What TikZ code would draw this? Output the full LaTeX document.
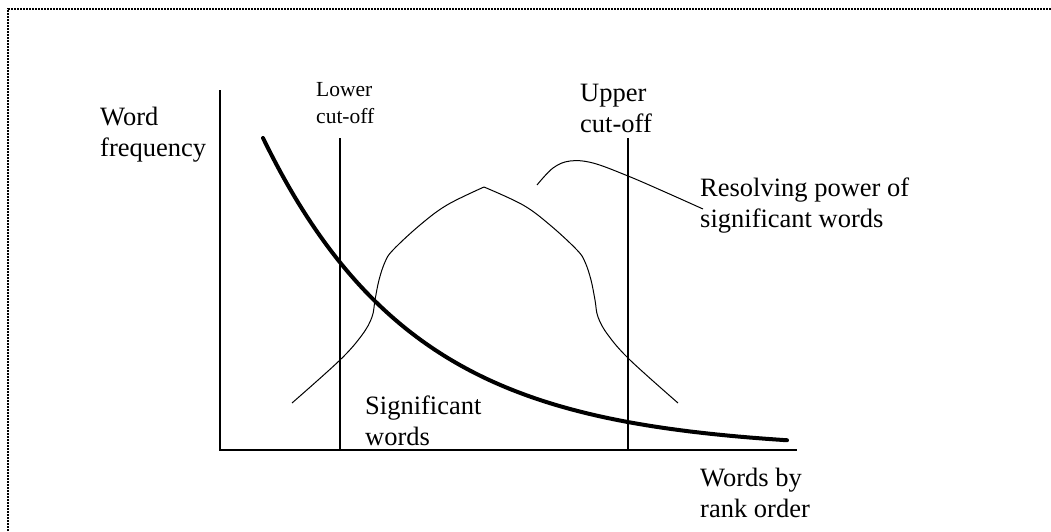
\documentclass[tikz,border=0pt]{standalone}
\usepackage{fontspec}
\setmainfont{Liberation Serif}
\begin{document}
\begin{tikzpicture}[x=1pt,y=-1pt,
    axisline/.style={line width=2pt},
    cutline/.style={line width=2pt},
    zipf/.style={line width=4pt,line cap=round},
    thincurve/.style={line width=1pt},
    frameline/.style={line width=2pt,dash pattern=on 2pt off 1pt},
    bigtext/.style={font=\fontsize{26.5}{30.5}\selectfont,align=left,anchor=base west,inner sep=0pt},
    smalltext/.style={font=\fontsize{21.5}{27}\selectfont,align=left,anchor=base west,inner sep=0pt}]
  \useasboundingbox (0,0) rectangle (1051,531);
  % frame (only top and left edges fall inside the page)
  \draw[frameline] (8,540) -- (8,9) -- (1060,9);
  % axes
  \coordinate (ytop) at (220,90);
  \coordinate (origin) at (220,450);
  \coordinate (xend) at (797,450);
  \draw[axisline] (ytop) -- (origin) -- (xend);
  % cut-off lines
  \coordinate (lowtop) at (340,138);
  \coordinate (lowbot) at (340,450);
  \coordinate (uptop) at (628,138);
  \coordinate (upbot) at (628,450);
  \draw[cutline] (lowtop) -- (lowbot);
  \draw[cutline] (uptop) -- (upbot);
  % word frequency curve: exponential decay
  \draw[zipf] plot[domain=263:787,samples=120]
    (\x,{450-312*exp(-0.0066*(\x-263))});
  % resolving power curve
  \draw[thincurve] plot[smooth,tension=0.6] coordinates {(292,403) (340,360) (362,335) (372,317) (375,300) (379,280) (385,262) (393,250) (420,225) (447,205) (484,187)};
  \draw[thincurve] plot[smooth,tension=0.6] coordinates {(484,187) (523,205) (550,225) (577,250) (585,262) (591,280) (595,300) (598,317) (608,335) (630,360) (678,403)};
  % leader to the label
  \draw[thincurve] plot[smooth,tension=0.6] coordinates {(537,185) (553,168) (570,161) (593,163) (628,176) (665,192) (703,209)};
  % labels (positioned at the baseline of their last line)
  \node[bigtext] (wf) at (100,156) {Word\\frequency};
  \node[smalltext] (lc) at (316,123) {Lower\\cut-off};
  \node[bigtext] (uc) at (580,132) {Upper\\cut-off};
  \node[bigtext] (rp) at (700,227) {Resolving power of\\significant words};
  \node[bigtext] (sw) at (365,445) {Significant\\words};
  \node[bigtext] (wr) at (700,517) {Words by\\rank order};
\end{tikzpicture}
\end{document}
